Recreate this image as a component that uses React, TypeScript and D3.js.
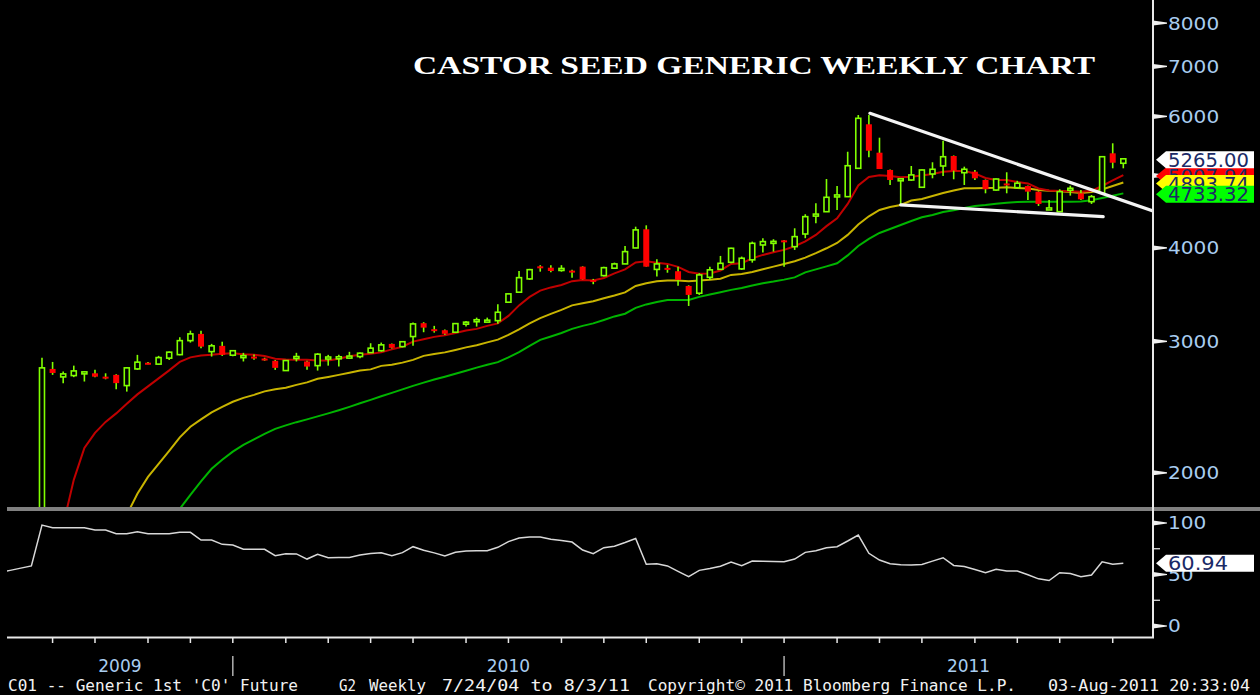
import React, { useEffect, useRef } from 'react';
import * as d3 from 'd3';

const W = 1260;
const H = 695;

// weekly candles, index 0 = first visible week (late Aug 2009), 102 = week of 1 Aug 2011
const opens = [
  1650, 2755, 2688, 2699, 2722, 2718, 2690, 2705, 2617, 2755, 2808, 2796, 2848, 2879, 3006, 3069, 2906, 2958, 2874, 2866,
  2862, 2845, 2825, 2741, 2855, 2819, 2783, 2852, 2854, 2858, 2862, 2897, 2914, 2976, 2951, 3044, 3172, 3114, 3104, 3085,
  3175, 3200, 3196, 3197, 3384, 3490, 3636, 3780, 3764, 3740, 3730, 3776, 3625, 3673, 3758, 3808, 4000, 4237, 3744, 3762,
  3723, 3558, 3479, 3654, 3745, 3827, 3750, 3856, 4037, 4075, 4095, 4016, 4176, 4430, 4473, 4700, 4685, 5113, 5856, 5365,
  5087, 4942, 4932, 4823, 5024, 5150, 5311, 5044, 5060, 4932, 4782, 4880, 4817, 4842, 4758, 4520, 4473, 4800, 4734, 4613,
  4734, 5355, 5193,
];
const highs = [
  2851, 2815, 2734, 2783, 2734, 2747, 2718, 2710, 2770, 2877, 2815, 2868, 2906, 3038, 3100, 3100, 2976, 2996, 2920, 2895,
  2880, 2852, 2832, 2830, 2895, 2825, 2892, 2877, 2877, 2904, 2897, 2982, 2988, 2980, 3000, 3178, 3182, 3146, 3110, 3172,
  3194, 3227, 3227, 3363, 3478, 3726, 3750, 3793, 3793, 3793, 3739, 3780, 3636, 3776, 3823, 4025, 4271, 4289, 3863, 3796,
  3776, 3565, 3700, 3776, 3903, 4004, 3895, 4079, 4122, 4109, 4098, 4250, 4438, 4591, 4947, 4842, 5381, 6026, 6026, 5619,
  5095, 4960, 5150, 5095, 5209, 5567, 5320, 5139, 5087, 4940, 4955, 5051, 4920, 4850, 4765, 4637, 4793, 4847, 4782, 4709,
  5305, 5523, 5270,
];
const lows = [
  1600, 2705, 2635, 2686, 2650, 2686, 2668, 2588, 2569, 2747, 2795, 2790, 2832, 2874, 2988, 2937, 2862, 2868, 2865, 2819,
  2835, 2825, 2747, 2738, 2819, 2747, 2741, 2783, 2775, 2845, 2848, 2897, 2906, 2935, 2945, 2958, 3085, 3081, 3060, 3080,
  3139, 3139, 3185, 3166, 3380, 3490, 3625, 3718, 3711, 3718, 3650, 3630, 3577, 3662, 3757, 3808, 4000, 3776, 3662, 3706,
  3561, 3345, 3461, 3625, 3739, 3815, 3739, 3823, 3943, 3955, 3776, 3976, 4122, 4316, 4470, 4497, 4685, 5113, 5290, 5102,
  4857, 4567, 4921, 4823, 4958, 4993, 4943, 4857, 4932, 4734, 4770, 4734, 4808, 4637, 4553, 4497, 4473, 4700, 4637, 4581,
  4734, 5113, 5113,
];
const closes = [
  2764, 2721, 2713, 2738, 2730, 2690, 2684, 2637, 2764, 2813, 2800, 2853, 2901, 3006, 3069, 2951, 2958, 2877, 2914, 2870,
  2855, 2838, 2764, 2827, 2862, 2775, 2883, 2858, 2860, 2866, 2892, 2937, 2967, 2940, 2996, 3165, 3129, 3100, 3070, 3168,
  3182, 3206, 3202, 3281, 3472, 3650, 3741, 3770, 3726, 3755, 3722, 3632, 3616, 3764, 3808, 3955, 4229, 3776, 3808, 3754,
  3625, 3461, 3681, 3739, 3815, 3996, 3875, 4058, 4079, 4082, 4088, 4142, 4405, 4440, 4676, 4710, 5154, 5965, 5398, 5102,
  4932, 4950, 5010, 5087, 5098, 5299, 5076, 5098, 4958, 4793, 4947, 4872, 4883, 4758, 4581, 4525, 4758, 4808, 4647, 4685,
  5299, 5202, 5265,
];

// moving averages (red / yellow / green), first week index of each
const fastStart = 2;
const fastMa = [
  1704, 1957, 2160, 2262, 2340, 2402, 2474, 2547, 2611, 2676, 2743, 2815, 2855, 2872, 2877, 2886, 2892, 2883, 2877, 2866,
  2842, 2836, 2833, 2833, 2828, 2828, 2842, 2864, 2877, 2886, 2899, 2926, 2950, 2997, 3018, 3041, 3057, 3078, 3102, 3117,
  3146, 3170, 3244, 3351, 3440, 3507, 3542, 3569, 3611, 3624, 3618, 3647, 3698, 3744, 3825, 3840, 3823, 3808, 3773, 3715,
  3695, 3698, 3732, 3808, 3817, 3873, 3915, 3948, 3976, 4021, 4081, 4164, 4278, 4383, 4581, 4849, 4978, 5003, 4993, 4974,
  4983, 5001, 5024, 5060, 5070, 5070, 5032, 4963, 4932, 4932, 4902, 4880, 4805, 4774, 4768, 4764, 4757, 4770, 4842, 4925,
  5008,
];
const midStart = 8;
const midMa = [
  1757, 1875, 1975, 2056, 2140, 2231, 2305, 2358, 2410, 2451, 2490, 2520, 2543, 2571, 2588, 2599, 2623, 2643, 2672, 2688,
  2705, 2722, 2741, 2751, 2781, 2790, 2809, 2833, 2868, 2884, 2899, 2921, 2944, 2964, 2990, 3015, 3060, 3112, 3170, 3222,
  3264, 3305, 3351, 3373, 3395, 3426, 3455, 3488, 3558, 3588, 3610, 3619, 3619, 3611, 3619, 3627, 3638, 3681, 3692, 3715,
  3746, 3776, 3808, 3840, 3883, 3937, 3996, 4062, 4164, 4300, 4410, 4497, 4539, 4567, 4629, 4652, 4695, 4739, 4775, 4808,
  4808, 4813, 4816, 4823, 4813, 4805, 4782, 4770, 4764, 4752, 4739, 4752, 4790, 4842, 4894,
];
const slowStart = 13;
const slowMa = [
  1790, 1869, 1948, 2025, 2082, 2135, 2180, 2217, 2255, 2290, 2315, 2338, 2358, 2380, 2402, 2426, 2451, 2478, 2504, 2532,
  2559, 2587, 2615, 2641, 2666, 2690, 2715, 2740, 2766, 2790, 2813, 2855, 2901, 2958, 3013, 3045, 3078, 3117, 3146, 3170,
  3204, 3239, 3266, 3325, 3361, 3387, 3408, 3408, 3408, 3440, 3466, 3490, 3515, 3536, 3563, 3588, 3606, 3628, 3653, 3710,
  3744, 3779, 3816, 3909, 4025, 4113, 4189, 4241, 4294, 4347, 4397, 4428, 4469, 4494, 4525, 4553, 4567, 4585, 4598, 4609,
  4613, 4613, 4613, 4613, 4613, 4616, 4633, 4666, 4699, 4733,
];

// lower study panel
const oscStart = -4;
const oscValues = [
  52, 54, 56.2, 58.3, 98, 95.4, 95.4, 95.4, 95.4, 93.2, 93.2, 89.6, 89.6, 91.6, 89.6, 89.6, 89.6, 91, 91, 83.5,
  83.5, 79.3, 78.6, 74.5, 74.5, 74.5, 68.3, 70.2, 70, 65, 69.6, 66.3, 66.5, 66.6, 68.9, 70.5, 71.2, 68.3, 71.2, 77,
  73.5, 71, 68, 71.5, 72.8, 73, 73.1, 76.4, 81.9, 85.5, 86.5, 86.5, 84.2, 83, 81.5, 73.8, 70.2, 76, 77.5, 81,
  85, 60, 60.5, 58.3, 53, 47.9, 54, 55.8, 58, 62, 58.5, 63, 62.8, 62.6, 62.4, 65, 71.5, 73.1, 76, 77,
  82.5, 88.3, 70.6, 64, 60.5, 59.5, 59.3, 59.8, 63, 66.3, 58.8, 57.8, 54.8, 51.7, 55, 53.4, 53.4, 49.8, 45.8, 44.1,
  51.7, 51, 47.8, 49.5, 62.4, 59.9, 60.94,
];

const priceTicks = [2000, 3000, 4000, 5000, 6000, 7000, 8000];
const oscTicks = [0, 50, 100];
const oscMinorTicks = [25, 75];
const monthTickWeeks = [1, 5, 10, 14, 18, 23, 27, 31, 35, 40, 44, 49, 53, 57, 62, 66, 70, 75, 79, 83, 88, 92, 96, 101];
const yearBreakWeeks = [18, 70];
const yearLabels = ['2009', '2010', '2011'];

// hand-drawn triangle: [week, price]
const trendUpper = [[78.1, 6057], [104.8, 4483]];
const trendLower = [[81, 4567], [100.1, 4405]];

const lastTags = [
  { label: '5007.94', value: 5007.94, fill: '#ff0000' },
  { label: '4893.74', value: 4893.74, fill: '#ffff00' },
  { label: '4733.32', value: 4733.32, fill: '#00ff00' },
  { label: '5265.00', value: 5265.0, fill: '#ffffff' },
];
const oscLast = 60.94;

const footer = [
  { text: "C01 -- Generic 1st 'C0' Future", x: 8, w: 290 },
  { text: 'G2', x: 339, w: 17 },
  { text: 'Weekly', x: 369, w: 57 },
  { text: '7/24/04 to 8/3/11', x: 442, w: 188 },
  { text: 'Copyright\u00a9 2011 Bloomberg Finance L.P.', x: 648, w: 368 },
  { text: '03-Aug-2011 20:33:04', x: 1048, w: 202 },
];

const CANDLE = '#80ff00';
const LABEL = '#a9cdf0';

const App: React.FC = () => {
  const ref = useRef<SVGSVGElement>(null);

  useEffect(() => {
    const svg = d3.select(ref.current);
    svg.selectAll('*').remove();

    const left = 7;
    const right = 1153;
    const priceBottom = 507;
    const oscTop = 511;
    const oscBottom = 637;

    const x = d3.scaleLinear().domain([-3.3, 104.8]).range([left, right]);
    const y = d3.scaleLog().domain([1800, 8590]).range([priceBottom, 0]);
    const yo = d3.scaleLinear().domain([0, 100]).range([626, 523]);

    svg.append('rect').attr('width', W).attr('height', H).attr('fill', '#000');

    const defs = svg.append('defs');
    defs.append('clipPath').attr('id', 'clip-price')
      .append('rect').attr('x', left).attr('y', 0).attr('width', right - left).attr('height', priceBottom);
    defs.append('clipPath').attr('id', 'clip-osc')
      .append('rect').attr('x', left).attr('y', oscTop).attr('width', right - left).attr('height', oscBottom - oscTop);

    // panel separator
    svg.append('rect').attr('x', left).attr('y', priceBottom).attr('width', W - left).attr('height', 4).attr('fill', '#808080');

    const price = svg.append('g').attr('clip-path', 'url(#clip-price)');

    // moving averages
    const maLine = (start: number) => d3.line<number>()
      .x((_, k) => x(start + k))
      .y((d) => y(d));
    price.append('path').attr('d', maLine(slowStart)(slowMa)).attr('fill', 'none')
      .attr('stroke', '#00b400').attr('stroke-width', 2);
    price.append('path').attr('d', maLine(midStart)(midMa)).attr('fill', 'none')
      .attr('stroke', '#c8b400').attr('stroke-width', 2);
    price.append('path').attr('d', maLine(fastStart)(fastMa)).attr('fill', 'none')
      .attr('stroke', '#c00000').attr('stroke-width', 2);

    // candles
    const candles = price.selectAll('g.c').data(opens.map((o, i) => ({ i, o, h: highs[i], l: lows[i], c: closes[i] })))
      .enter().append('g');
    candles.append('line')
      .attr('x1', (d) => x(d.i)).attr('x2', (d) => x(d.i))
      .attr('y1', (d) => y(d.h)).attr('y2', (d) => y(d.l))
      .attr('stroke', CANDLE).attr('stroke-width', 1.6);
    candles.append('rect')
      .attr('x', (d) => x(d.i) - (d.c >= d.o ? 2.5 : 3))
      .attr('y', (d) => y(Math.max(d.o, d.c)))
      .attr('width', (d) => (d.c >= d.o ? 5 : 6))
      .attr('height', (d) => Math.max(y(Math.min(d.o, d.c)) - y(Math.max(d.o, d.c)), 2))
      .attr('fill', (d) => (d.c >= d.o ? '#000' : '#ff0000'))
      .attr('stroke', (d) => (d.c >= d.o ? CANDLE : 'none'))
      .attr('stroke-width', 1.6);

    // trend lines
    const tl = d3.line<number[]>().x((d) => x(d[0])).y((d) => y(d[1]));
    [trendUpper, trendLower].forEach((t) => {
      price.append('path').attr('d', tl(t)).attr('fill', 'none')
        .attr('stroke', '#f4f4f4').attr('stroke-width', 3.2).attr('stroke-linecap', 'round');
    });

    // lower study
    const osc = svg.append('g').attr('clip-path', 'url(#clip-osc)');
    osc.append('path')
      .attr('d', d3.line<number>().x((_, k) => x(oscStart + k)).y((d) => yo(d))(oscValues))
      .attr('fill', 'none').attr('stroke', '#d8d8d8').attr('stroke-width', 1.5);

    // axes frame
    svg.append('line').attr('x1', right).attr('x2', right).attr('y1', 0).attr('y2', oscBottom + 1)
      .attr('stroke', '#e8e8e8').attr('stroke-width', 2);
    svg.append('line').attr('x1', left).attr('x2', right + 1).attr('y1', oscBottom + 0.5).attr('y2', oscBottom + 0.5)
      .attr('stroke', '#e8e8e8').attr('stroke-width', 2);

    const wedge = (ty: number) =>
      `M${right},${ty - 2.5}L${right + 14},${ty - 0.6}L${right + 14},${ty + 0.6}L${right},${ty + 2.5}Z`;

    const label = (txt: string, ty: number) => {
      svg.append('text').attr('x', right + 15).attr('y', ty).attr('dy', '0.36em')
        .attr('fill', LABEL).attr('font-family', 'DejaVu Sans, Verdana, sans-serif').attr('font-size', 18)
        .attr('textLength', txt.length * 12.8).attr('lengthAdjust', 'spacingAndGlyphs')
        .text(txt);
    };

    priceTicks.forEach((v) => {
      svg.append('path').attr('d', wedge(y(v))).attr('fill', '#f0f0f0');
      label(String(v), y(v));
    });
    oscTicks.forEach((v) => {
      svg.append('path').attr('d', wedge(yo(v))).attr('fill', '#f0f0f0');
      label(String(v), yo(v));
    });
    oscMinorTicks.forEach((v) => {
      svg.append('line').attr('x1', right).attr('x2', right + 7).attr('y1', yo(v)).attr('y2', yo(v))
        .attr('stroke', '#f0f0f0').attr('stroke-width', 1.2);
    });

    // last value tags (they stack over each other as in the terminal)
    const tag = (ty: number, fill: string, txt: string, w: number) => {
      const g = svg.append('g');
      g.append('path')
        .attr('d', `M${right + 3},${ty}L${right + 13},${ty - 8.5}L${W - 6},${ty - 8.5}L${W - 6},${ty + 8.5}L${right + 13},${ty + 8.5}Z`)
        .attr('fill', fill);
      g.append('text').attr('x', right + 15).attr('y', ty).attr('dy', '0.37em')
        .attr('fill', '#1b2a66').attr('font-family', 'DejaVu Sans, Verdana, sans-serif').attr('font-size', 19)
        .attr('textLength', w).attr('lengthAdjust', 'spacingAndGlyphs').text(txt);
    };
    lastTags.forEach((t) => tag(y(t.value) + 1, t.fill, t.label, 81));
    tag(yo(oscLast), '#ffffff', oscLast.toFixed(2), 60);

    // time axis
    monthTickWeeks.forEach((w) => {
      svg.append('line').attr('x1', x(w)).attr('x2', x(w)).attr('y1', oscBottom + 1).attr('y2', oscBottom + 6)
        .attr('stroke', '#e8e8e8').attr('stroke-width', 1.5);
    });
    yearBreakWeeks.forEach((w) => {
      svg.append('line').attr('x1', x(w)).attr('x2', x(w)).attr('y1', 656).attr('y2', 676)
        .attr('stroke', '#b0b0b0').attr('stroke-width', 1.5);
    });
    const bounds = [x.domain()[0], ...yearBreakWeeks, x.domain()[1]];
    yearLabels.forEach((lbl, k) => {
      svg.append('text').attr('x', x((bounds[k] + bounds[k + 1]) / 2)).attr('y', 666).attr('dy', '0.36em')
        .attr('text-anchor', 'middle').attr('fill', LABEL)
        .attr('font-family', 'DejaVu Sans, Verdana, sans-serif').attr('font-size', 17).text(lbl);
    });

    footer.forEach((f) => {
      svg.append('text').attr('x', f.x).attr('y', 691)
        .attr('fill', '#f2f2f2').attr('font-family', 'DejaVu Sans Mono, Liberation Mono, monospace').attr('font-size', 15)
        .attr('textLength', f.w).attr('lengthAdjust', 'spacingAndGlyphs').text(f.text);
    });

    // title
    svg.append('text').attr('x', 413).attr('y', 74)
      .attr('fill', '#ffffff').attr('font-family', 'Liberation Serif, DejaVu Serif, serif').attr('font-weight', 'bold')
      .attr('font-size', 25).attr('textLength', 682).attr('lengthAdjust', 'spacingAndGlyphs')
      .text('CASTOR SEED GENERIC WEEKLY CHART');
  }, []);

  return (
    <div style={{ position: 'fixed', left: 0, top: 0 }}>
      <svg ref={ref} width={W} height={H} style={{ display: 'block' }} />
    </div>
  );
};

export default App;
